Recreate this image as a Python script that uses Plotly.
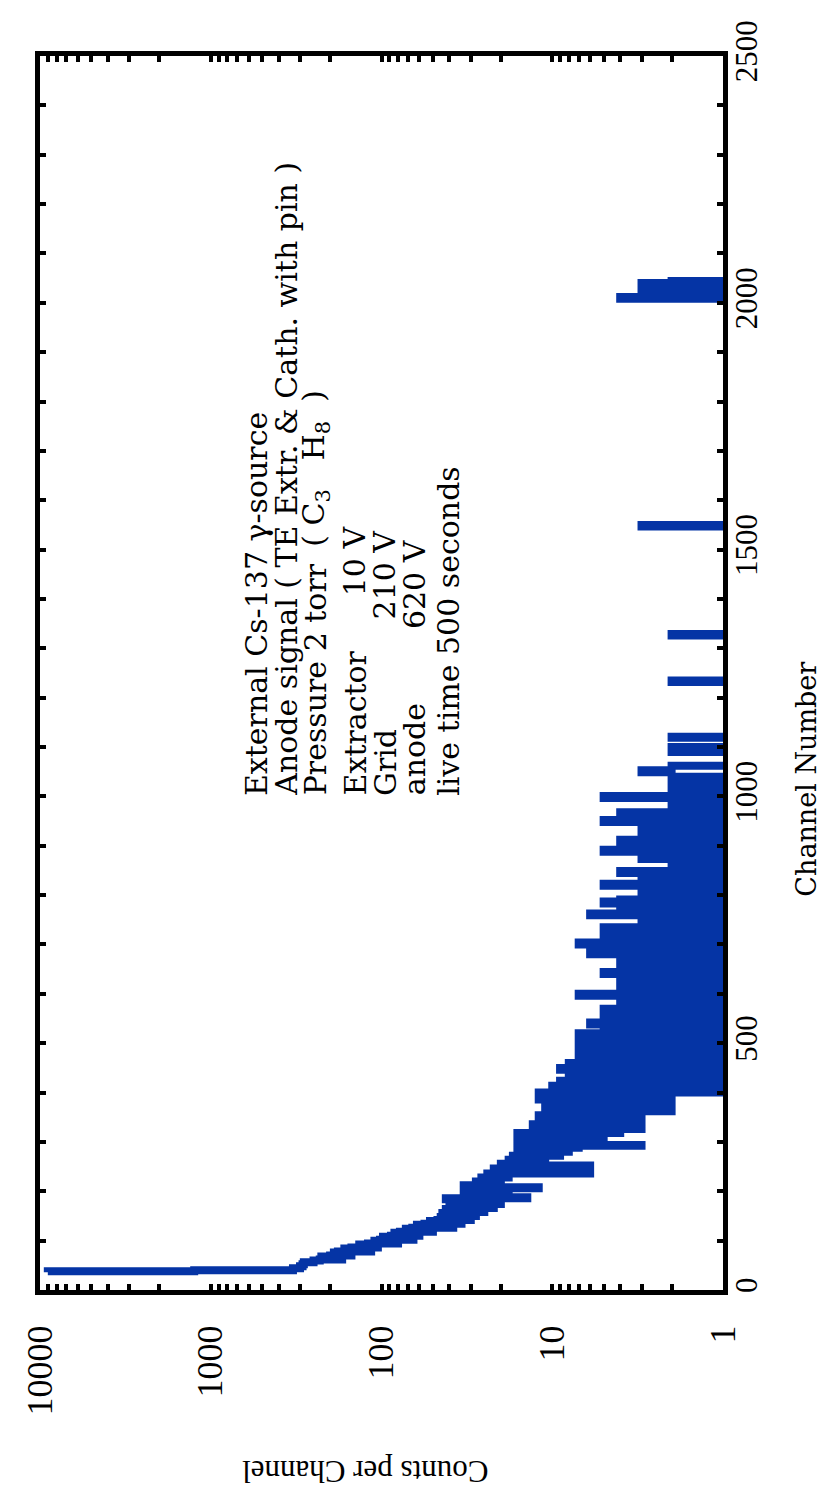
import plotly.graph_objects as go

# ---- data ----
channels = [36, 38, 40, 44, 48, 52, 56, 60, 62, 64, 68, 70, 72, 76, 78, 80, 84, 86, 88, 92,
            94, 96, 100, 102, 104, 108, 110, 112, 116, 118, 120, 124, 126, 128, 132, 134, 136, 140, 142, 144,
            148, 150, 152, 156, 158, 160, 164, 166, 168, 172, 174, 176, 180, 184, 186, 188, 192, 194, 196, 200,
            204, 206, 208, 212, 216, 220, 224, 228, 232, 236, 238, 242, 246, 250, 252, 256, 260,
            264, 268, 272, 276, 280, 284, 288, 292, 294, 298, 302, 306, 310, 314, 318, 322, 326, 328, 332, 336,
            340, 344, 346, 350, 354, 358, 362, 364, 368, 372, 374, 378, 382, 386, 390, 392, 396, 400, 402, 406,
            410, 414, 416, 420, 424, 428, 432, 434, 438, 442, 446, 450, 452, 456, 460, 464, 468, 470, 474, 478,
            480, 484, 488, 492, 494, 498, 502, 506, 510, 512, 516, 520, 522, 526, 530, 534, 538, 542, 544, 548,
            552, 556, 560, 562, 566, 570, 574, 578, 582, 586, 590, 594, 596, 600, 604, 606, 610, 614, 618, 622,
            626, 628, 632, 636, 640, 644, 648, 650, 654, 658, 662, 666, 670, 672, 676, 680, 684, 688, 692, 696,
            700, 704, 708, 712, 716, 720, 724, 728, 731, 735, 740, 744, 747, 751, 755, 759, 763, 767, 771, 775,
            779, 783, 787, 791, 795, 799, 803, 807, 811, 815, 819, 823, 827, 831, 835, 837, 841, 845, 849, 853,
            857, 861, 865, 869, 873, 877, 881, 885, 888, 892, 896, 900, 904, 908, 912, 916, 920, 924, 928, 932,
            936, 940, 944, 948, 952, 956, 960, 964, 968, 972, 976, 980, 984, 988, 992, 997, 1001, 1005, 1010, 1015,
            1020, 1024, 1030, 1034, 1040, 1045, 1049, 1053, 1058, 1062, 1090, 1094, 1097, 1100, 1119, 1121,
            1232, 1235, 1326, 1329, 1547, 1550, 2008, 2012, 2016, 2020, 2024, 2028, 2032, 2036, 2040,
            2044, 2048]
counts = [9000, 1250, 330, 300, 290, 285, 250, 230, 170, 225, 200, 150, 190, 180, 115, 165, 150, 105, 135, 120,
          80, 110, 102, 65, 98, 88, 60, 84, 78, 50, 72, 66, 38, 62, 56, 34, 52, 47, 30, 45,
          43, 28, 44, 40, 25, 42, 36, 22, 40, 34, 20, 38, 30, 42, 14, 30, 33, 18, 26, 32,
          24, 12, 33, 22, 28, 20, 26, 18, 24, 6, 19, 22, 16, 6, 20, 14, 18,
          11, 17, 9, 14, 8, 16, 7, 3, 12, 16, 8, 13, 5, 16, 4, 11, 3, 9, 13, 6,
          12, 3, 9, 12, 4, 10, 2, 8, 11, 2, 7, 10, 4, 12, 2, 6, 12, 1, 9, 3,
          10, 0, 6, 9, 2, 8, 0, 5, 8, 1, 9, 0, 4, 8, 2, 7, 0, 5, 6, 0,
          7, 3, 6, 0, 4, 7, 1, 5, 0, 6, 7, 0, 3, 5, 0, 4, 6, 0, 3, 5,
          1, 4, 0, 3, 5, 0, 4, 2, 0, 3, 4, 0, 7, 2, 0, 4, 3, 0, 4, 2,
          0, 3, 4, 0, 5, 2, 0, 3, 4, 0, 2, 4, 0, 3, 2, 6, 0, 3, 2, 5,
          7, 0, 2, 5, 0, 2, 3, 0, 5, 1, 2, 0, 3, 2, 0, 6, 2, 4, 0, 2,
          3, 5, 4, 0, 2, 3, 0, 2, 3, 0, 5, 2, 0, 3, 2, 3, 0, 4, 2, 0,
          2, 1, 0, 2, 3, 0, 2, 3, 5, 3, 0, 2, 3, 4, 0, 2, 3, 0, 2, 1,
          0, 3, 2, 5, 3, 0, 2, 4, 2, 0, 2, 2, 0, 2, 0, 5, 0, 2, 0, 2,
          2, 0, 2, 0, 2, 2, 3, 2, 2, 0, 2, 0, 2, 0, 2, 0,
          2, 0, 2, 0, 3, 0, 4, 1, 3, 0, 3, 2, 1, 3, 2,
          0, 0]

count_ticks = [1, 10, 100, 1000, 10000]
count_tick_text = ["1", "10", "100", "1000", "10000"]
count_minor = [m * d for d in (1, 10, 100, 1000) for m in range(2, 10)]
channel_ticks = [0, 500, 1000, 1500, 2000, 2500]
channel_tick_text = ["0", "500", "1000", "1500", "2000", "2500"]

info_lines = ["External Cs-137 \u03b3-source",
              "Anode signal ( TE Extr. & Cath. with pin )",
              "Pressure 2 torr",
              "Extractor", "Grid", "anode",
              "live time 500 seconds"]
formula = "(\u00a0C<sub>3</sub>\u00a0\u00a0\u00a0H<sub>8</sub>\u00a0\u00a0)"
info_values = ["10 V", "210 V", "620 V"]

# ---- layout geometry (pixels) ----
W, H = 827, 1497
L, R, T, B = 24, 715, 44, 1282


def px(x):
    return (x - L) / (R - L)


def py(y):
    return (B - y) / (B - T)


plot_counts = [c if c > 0 else 0.1 for c in counts]

fig = go.Figure()
fig.add_trace(go.Scatter(
    x=plot_counts, y=channels, mode="lines",
    line=dict(color="rgb(5,52,165)", width=8, shape="vh", simplify=False),
    hoverinfo="skip"))

axis_common = dict(showline=True, linecolor="black", linewidth=5, mirror="allticks",
                   ticks="inside", ticklen=6, tickwidth=4, tickcolor="black",
                   showgrid=False, zeroline=False, tickangle=-90)

fig.update_xaxes(type="log", range=[4, 0], tickmode="array", tickvals=count_ticks,
                 ticktext=count_tick_text,
                 tickfont=dict(family="Liberation Serif", size=36, color="black"),
                 ticklabelstandoff=16,
                 minor=dict(tickmode="array", tickvals=count_minor, ticks="inside", ticklen=6,
                            tickwidth=4, tickcolor="black", showgrid=False),
                 **axis_common)
fig.update_yaxes(range=[0, 2500], side="right", tickmode="array", tickvals=channel_ticks,
                 ticktext=channel_tick_text,
                 tickfont=dict(family="Liberation Serif", size=31, color="black"),
                 ticklabelstandoff=-8,
                 minor=dict(dtick=100, ticks="inside", ticklen=6, tickwidth=4,
                            tickcolor="black", showgrid=False),
                 **axis_common)

FS = 30
ann = []
info_x = [243, 273, 303, 343, 373, 403, 437]
for txt, xx in zip(info_lines, info_x):
    ann.append(dict(text=txt, x=px(xx), y=py(788), xref="paper", yref="paper",
                    xanchor="center", yanchor="bottom", textangle=-90, showarrow=False,
                    font=dict(family="DejaVu Serif", size=FS, color="black")))
ann.append(dict(text=formula, x=px(303), y=py(538), xref="paper", yref="paper",
                xanchor="center", yanchor="bottom", textangle=-90, showarrow=False,
                font=dict(family="DejaVu Serif", size=FS, color="black")))
for txt, xx, yy in zip(info_values, [343, 373, 403], [513, 517, 527]):
    ann.append(dict(text=txt, x=px(xx), y=py(yy), xref="paper", yref="paper",
                    xanchor="center", yanchor="top", textangle=-90, showarrow=False,
                    font=dict(family="DejaVu Serif", size=FS, color="black")))
ann.append(dict(text="Channel Number", x=px(800), y=py(770), xref="paper", yref="paper",
                xanchor="center", yanchor="middle", textangle=-90, showarrow=False,
                font=dict(family="DejaVu Serif", size=27, color="black")))
ann.append(dict(text="Counts per Channel", x=px(353), y=py(1464), xref="paper", yref="paper",
                xanchor="center", yanchor="middle", textangle=180, showarrow=False,
                font=dict(family="Liberation Serif", size=31, color="black")))

fig.update_layout(width=W, height=H, margin=dict(l=L, r=W - R, t=T, b=H - B),
                  plot_bgcolor="white", paper_bgcolor="white", showlegend=False,
                  annotations=ann)

fig.write_html("out.html")
